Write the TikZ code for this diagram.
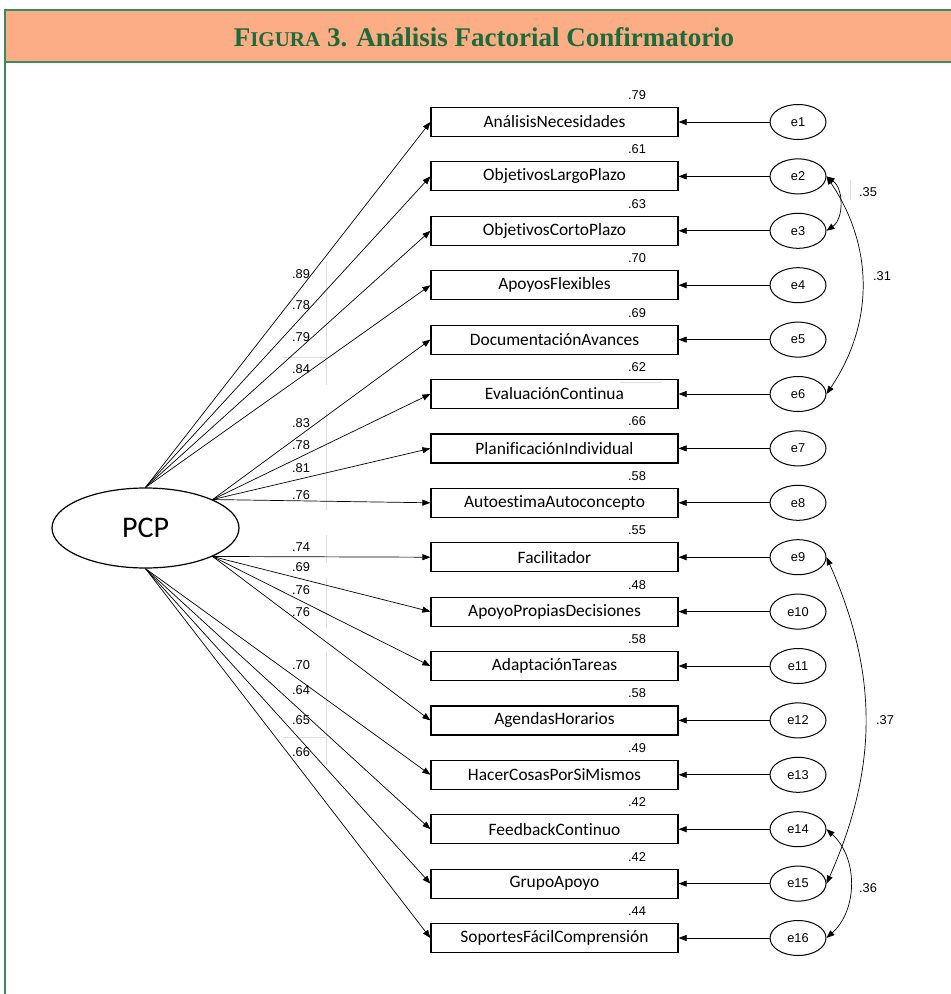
\documentclass[tikz,border=0pt]{standalone}
\usepackage{fontspec}
\setmainfont{Liberation Sans}
\newfontfamily\calibrifont[Ligatures={NoCommon,NoRare}]{Carlito}
\newfontfamily\titlefont{Liberation Serif}
\usetikzlibrary{shapes.geometric,arrows.meta}
\definecolor{band-orange}{HTML}{FCAD85}
\definecolor{frame-green}{HTML}{3D8A5C}
\definecolor{title-green}{HTML}{1C6B3B}
\tikzset{
    obs-box/.style = {draw, line width=0.6pt, rectangle, minimum width=123.5pt, minimum height=14.5pt, inner sep=0pt, font=\calibrifont\fontsize{8.7}{10}\selectfont},
    err-ellipse/.style = {draw, line width=0.5pt, ellipse, minimum width=28pt, minimum height=17.5pt, inner sep=0pt, font=\fontsize{6.4}{8}\selectfont},
    latent-ellipse/.style = {draw, line width=0.6pt, ellipse, minimum width=93.5pt, minimum height=40pt, font=\calibrifont\fontsize{15}{17}\selectfont},
    load-arrow/.style = {line width=0.35pt, -{Triangle[length=4pt, width=3pt]}},
    err-arrow/.style = {line width=0.35pt, -{Triangle[length=4pt, width=3pt]}},
    cov-arrow/.style = {line width=0.35pt, {Triangle[length=4pt, width=3pt]}-{Triangle[length=4pt, width=3pt]}},
    coef-label/.style = {inner sep=0pt, font=\fontsize{6.4}{8}\selectfont},
    trace-line/.style = {gray!25, line width=0.4pt},
}

\begin{document}
\begin{tikzpicture}[x=0.5pt, y=-0.5pt]
\useasboundingbox (0,0) rectangle (951,994);
% frame and title band
\fill[band-orange] (5,10) rectangle (951,62);
\draw[frame-green, line width=0.8pt] (951,10) -- (5,10) -- (5,994);
\draw[frame-green, line width=0.8pt] (5,62) -- (951,62);
\node[text=title-green, font=\titlefont\bfseries\fontsize{13.5}{16}\selectfont] (title) at (484,37)
    {F{\fontsize{10.5}{12}\selectfont IGURA} 3. Análisis Factorial Confirmatorio};

% faint traces
\draw[trace-line] (326,262) -- (326,385);
\draw[trace-line] (283,357) -- (326,357);
\draw[trace-line] (326,410) -- (326,510);
\draw[trace-line] (326,535) -- (326,563);
\draw[trace-line] (326,578) -- (326,628);
\draw[trace-line] (326,652) -- (326,765);
\draw[trace-line] (283,737) -- (326,737);
\draw[trace-line] (850,180) -- (850,200);
\draw[trace-line] (620,382) -- (662,382);

\node[latent-ellipse] (PCP) at (145.5,528) {PCP};

\foreach \name/\rsq/\load/\ly/\src [count=\i] in {
    AnálisisNecesidades/.79/.89/274/north,
    ObjetivosLargoPlazo/.61/.78/305/north,
    ObjetivosCortoPlazo/.63/.79/337/north,
    ApoyosFlexibles/.70/.84/369/north,
    DocumentaciónAvances/.69/.83/423/23,
    EvaluaciónContinua/.62/.78/445/23,
    PlanificaciónIndividual/.66/.81/468/23,
    AutoestimaAutoconcepto/.58/.76/495/23,
    Facilitador/.55/.74/547/-23,
    ApoyoPropiasDecisiones/.48/.69/567/-23,
    AdaptaciónTareas/.58/.76/590/-23,
    AgendasHorarios/.58/.76/612/-23,
    HacerCosasPorSiMismos/.49/.70/665/south,
    FeedbackContinuo/.42/.64/690/south,
    GrupoApoyo/.42/.65/720/south,
    SoportesFácilComprensión/.44/.66/752/south}{
    \pgfmathsetmacro\yy{122+54.4*(\i-1)}
    \node[obs-box] (obs\i) at (554.5,\yy) {\name};
    \node[err-ellipse] (err\i) at (798,\yy) {e\i};
    \node[coef-label] (rsq\i) at (637,{\yy-27}) {\rsq};
    \draw[err-arrow] (err\i) -- (obs\i);
    \draw[load-arrow] (PCP.\src) -- (obs\i.west);
    \node[coef-label] (load\i) at (301,\ly) {\load};
}

% error covariances
\draw[cov-arrow] (err2.east) to[bend left=55] (err3.east);
\draw[cov-arrow] (err2.east) to[bend left=34] (err6.east);
\draw[cov-arrow] (err9.east) to[bend left=24] (err15.east);
\draw[cov-arrow] (err14.east) to[bend left=48] (err16.east);
\node[coef-label] (cov23) at (868,192) {.35};
\node[coef-label] (cov26) at (882,276) {.31};
\node[coef-label] (cov915) at (885,720) {.37};
\node[coef-label] (cov1416) at (868,888) {.36};
\end{tikzpicture}
\end{document}
